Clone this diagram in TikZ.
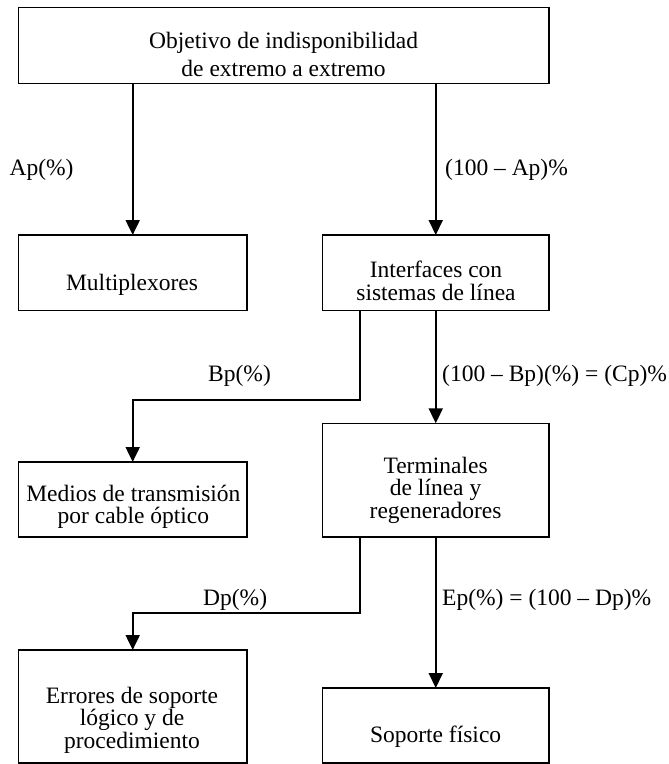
\documentclass[tikz,border=0pt]{standalone}
\usepackage{fontspec}
\setmainfont{Liberation Serif}
\usetikzlibrary{arrows.meta}
\begin{document}
\begin{tikzpicture}[x=1pt,y=-1pt,
  box/.style={draw=black, line width=1.3pt, rectangle, inner sep=0pt, outer sep=0pt},
  txt/.style={align=center, inner sep=0pt, font=\fontsize{23.5}{22.5}\selectfont},
  toptxt/.style={align=center, inner sep=0pt, font=\fontsize{23.5}{28}\selectfont},
  lbl/.style={anchor=west, inner sep=0pt, font=\fontsize{23.5}{28}\selectfont},
  arr/.style={line width=2pt, -{Triangle[length=15pt,width=14pt]}},
  link/.style={line width=2pt}]
\useasboundingbox (0,0) rectangle (669,764);

% boxes
\node[box, minimum width=530.6pt, minimum height=76pt]  (top)    at (283.7,45.3) {};
\node[box, minimum width=228.6pt, minimum height=75.7pt] (mux)   at (132.7,272.85) {};
\node[box, minimum width=226.5pt, minimum height=75.7pt] (intf)  at (435.75,272.85) {};
\node[box, minimum width=228.6pt, minimum height=75pt]  (medios) at (132.7,499.5) {};
\node[box, minimum width=226.5pt, minimum height=113.7pt] (term) at (435.75,480.15) {};
\node[box, minimum width=228.6pt, minimum height=113pt] (err)    at (132.7,706.5) {};
\node[box, minimum width=226.5pt, minimum height=75pt]  (fis)    at (435.75,725.5) {};

% box texts
\node[toptxt] (topt)    at (283.6,54) {Objetivo de indisponibilidad\\de extremo a extremo};
\node[txt]    (muxt)    at (132,285) {Multiplexores};
\node[txt]    (intft)   at (436,281) {Interfaces con\\sistemas de línea};
\node[txt]    (mediost) at (133.4,507) {Medios de transmisión\\por cable óptico};
\node[txt]    (termt)   at (435.6,490) {Terminales\\de línea y\\regeneradores};
\node[txt]    (errt)    at (132,720) {Errores de soporte\\lógico y de\\procedimiento};
\node[txt]    (fist)    at (435.6,737) {Soporte físico};

% branch points
\coordinate (b1) at (359.5,400);
\coordinate (b2) at (359.5,612.7);

% connectors
\draw[arr] (top.south -| mux) -- (mux.north);
\draw[arr] (top.south -| intf) -- (intf.north);
\draw[arr] (intf.south -| b1) -- (b1) -- (b1 -| medios) -- (medios.north);
\draw[arr] (intf.south) -- (term.north);
\draw[arr] (term.south -| b2) -- (b2) -- (b2 -| err) -- (err.north);
\draw[arr] (term.south) -- (fis.north);

% connector labels
\node[lbl] (la) at (9.4,170) {Ap(\%)};
\node[lbl] (lb) at (445,170) {(100 – Ap)\%};
\node[lbl] (lc) at (208,376) {Bp(\%)};
\node[lbl] (ld) at (442,376) {(100 – Bp)(\%) = (Cp)\%};
\node[lbl] (le) at (203,600) {Dp(\%)};
\node[lbl] (lf) at (442,600) {Ep(\%) = (100 – Dp)\%};
\end{tikzpicture}
\end{document}
